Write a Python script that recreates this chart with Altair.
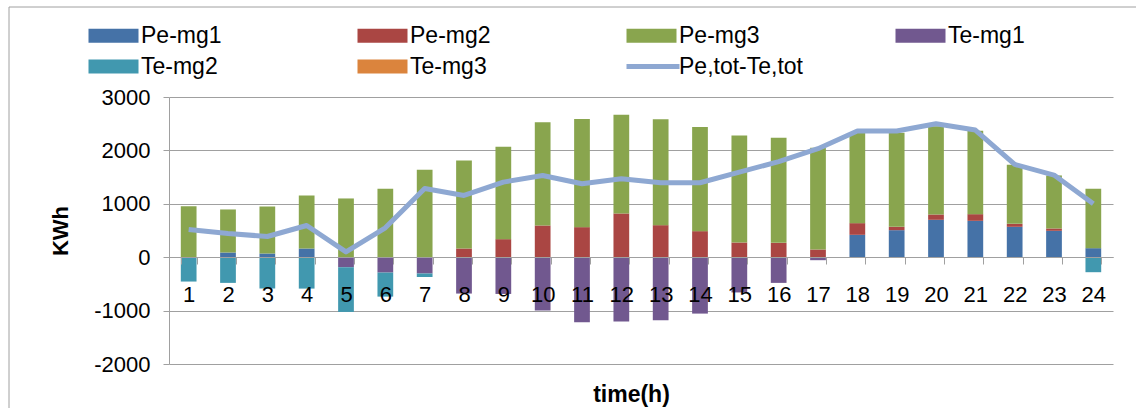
import altair as alt
import pandas as pd

hours = list(range(1, 25))

series_names = ["Pe-mg1", "Pe-mg2", "Pe-mg3", "Te-mg1", "Te-mg2", "Te-mg3"]
line_name = "Pe,tot-Te,tot"

pe_mg1 = [0, 88, 69, 163, 0, 0, 0, 0, 0, 0, 0, 0, 0, 0, 0, 0, 0, 419, 506, 700, 681, 569, 494, 169]
pe_mg2 = [0, 0, 0, 0, 0, 0, 0, 163, 338, 594, 563, 819, 600, 488, 275, 269, 144, 219, 63, 100, 125, 56, 44, 0]
pe_mg3 = [956, 806, 881, 993, 1100, 1281, 1638, 1650, 1731, 1931, 2025, 1850, 1981, 1950, 2006, 1969,
          1906, 1694, 1763, 1650, 1563, 1106, 993, 1112]
te_mg1 = [0, 0, 0, 0, -188, -288, -306, -681, -688, -1000, -1219, -1206, -1181, -1056, -660, -481,
          -56, 0, 0, 0, 0, 0, 0, 0]
te_mg2 = [-456, -481, -588, -588, -837, -450, -63, 0, 0, 0, 0, 0, 0, 0, 0, 0, 0, 0, 0, 0, 0, 0, 0, -281]
te_mg3 = [0] * 24
net = [519, 444, 388, 594, 100, 550, 1288, 1156, 1406, 1531, 1375, 1469, 1394, 1394, 1594, 1790,
       2031, 2363, 2363, 2500, 2381, 1738, 1538, 1000]

bar_colors = ["#4572A7", "#AA4643", "#89A54E", "#71588F", "#4198AF", "#DB843D"]
line_color = "#8EA8D2"
y_ticks = [-2000, -1000, 0, 1000, 2000, 3000]

FONT = "Liberation Sans"
GRID = "#A0A0A0"

rows = []
for k, (name, vals) in enumerate(zip(series_names, [pe_mg1, pe_mg2, pe_mg3, te_mg1, te_mg2, te_mg3])):
    for h, v in zip(hours, vals):
        rows.append({"hour": h, "series": name, "ord": k, "value": v})
bars_df = pd.DataFrame(rows)
line_df = pd.DataFrame({"hour": hours, "value": net, "series": [line_name] * 24})

all_names = series_names + [line_name]
color_scale = alt.Scale(domain=all_names, range=bar_colors + [line_color])
shape_scale = alt.Scale(domain=all_names,
                        range=["M-1,-0.7H4V0.7H-1Z"] * 6 + ["M-1,-0.25H4.3V0.25H-1Z"])

legend = alt.Legend(title=None, orient="none", legendX=-82, legendY=-73, columns=4,
                    direction="horizontal", symbolSize=400, labelFontSize=23, labelFont=FONT,
                    labelColor="black", columnPadding=90, rowPadding=7, gridAlign="all",
                    labelOffset=31, symbolStrokeWidth=0, padding=0, labelLimit=300)

x_enc = alt.X("hour:O", scale=alt.Scale(paddingInner=0.6, paddingOuter=0.3),
              axis=alt.Axis(title="time(h)", orient="bottom", offset=-107, labelAngle=0,
                            labelFont=FONT, labelFontSize=22, labelColor="black",
                            tickBand="extent", tickSize=7, tickColor=GRID, domainColor=GRID,
                            labelPadding=20, zindex=1, grid=False,
                            titleFont=FONT, titleFontSize=23, titleFontWeight="bold",
                            titleColor="black", titleX=462, titleY=144,
                            titleBaseline="alphabetic"))

y_scale = alt.Scale(domain=[-2000, 3000], nice=False, zero=False)
y_axis = alt.Axis(title="KWh", values=y_ticks, labelExpr="datum.value + ''",
                  labelFont=FONT, labelFontSize=22,
                  labelColor="black", tickSize=6, tickColor=GRID, domainColor=GRID,
                  labelPadding=13, grid=True, gridColor=GRID, gridWidth=1,
                  titleFont=FONT, titleFontSize=22, titleFontWeight="bold", titleColor="black",
                  titleX=-109, titleY=133.5, titleBaseline="middle", titleAngle=-90)

bars = alt.Chart(bars_df).mark_bar().encode(
    x=x_enc,
    y=alt.Y("value:Q", stack="zero", scale=y_scale, axis=y_axis),
    color=alt.Color("series:N", scale=color_scale, legend=legend),
    order=alt.Order("ord:Q", sort="ascending"),
)

line = alt.Chart(line_df).mark_line(strokeWidth=5, strokeJoin="round", strokeCap="butt").encode(
    x=x_enc,
    y=alt.Y("value:Q", scale=y_scale, axis=y_axis),
    color=alt.Color("series:N", scale=color_scale, legend=legend),
)

legend_pts = alt.Chart(bars_df).mark_point(filled=True, opacity=1).encode(
    x=x_enc,
    y=alt.Y("value:Q", scale=y_scale, axis=y_axis),
    color=alt.Color("series:N", scale=color_scale, legend=legend),
    shape=alt.Shape("series:N", scale=shape_scale, legend=legend),
).transform_filter("false")

frame = alt.Chart(pd.DataFrame({"a": [0]})).mark_rect(filled=False, stroke=GRID, strokeWidth=1).encode(
    x=alt.value(-160), x2=alt.value(975), y=alt.value(-90), y2=alt.value(320)
)

chart = alt.layer(frame, bars, line, legend_pts).properties(
    width=944, height=267,
    autosize=alt.AutoSizeParams(type="none"),
    padding={"left": 169, "top": 97, "right": 23, "bottom": 44},
    background="white",
).configure_view(stroke=None)

chart.save("out.html", embed_options={"renderer": "svg", "actions": False})
